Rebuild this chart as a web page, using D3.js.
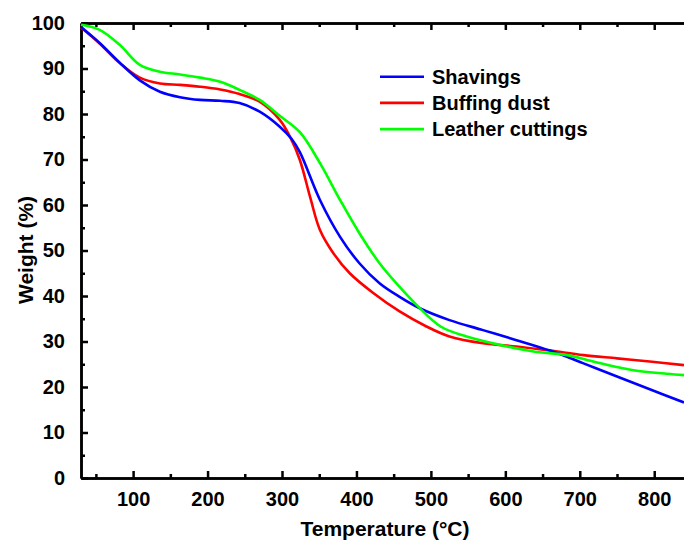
<!DOCTYPE html>
<html>
<head>
<meta charset="utf-8">
<script src="https://cdn.jsdelivr.net/npm/d3@7"></script>
<style>
  body { margin: 0; background: #fff; }
  text { font-family: "Liberation Sans", Arial, sans-serif; font-weight: bold; }
</style>
</head>
<body>
<div id="my_dataviz"></div>
<script>
// data (temperature in °C, weight in %)
var shavingsT = [30, 55, 82, 109, 136, 163, 190, 217, 243, 270, 297, 313, 324, 351, 378, 404, 431, 458, 485, 525, 570, 615, 660, 705, 750, 794, 840];
var shavingsW = [99.1, 95.6, 91.3, 87.4, 84.9, 83.7, 83.1, 82.9, 82.4, 80.5, 77.2, 74.5, 71.6, 61.1, 53.0, 47.2, 42.8, 39.8, 37.3, 34.7, 32.5, 30.3, 28.0, 25.2, 22.3, 19.5, 16.6];

var buffingT = [30, 55, 82, 109, 136, 163, 190, 217, 243, 270, 297, 311, 324, 338, 351, 369, 391, 423, 458, 494, 525, 570, 615, 660, 705, 750, 794, 840];
var buffingW = [99.0, 95.5, 91.2, 88.0, 86.7, 86.4, 86.0, 85.4, 84.4, 82.7, 78.7, 74.9, 69.9, 61.6, 54.5, 49.4, 45.0, 40.6, 36.6, 33.3, 31.1, 29.6, 28.9, 28.0, 27.0, 26.3, 25.6, 24.8];

var leatherT = [30, 55, 82, 109, 136, 163, 190, 217, 243, 270, 297, 324, 351, 378, 404, 431, 458, 481, 513, 548, 594, 638, 683, 728, 772, 817, 840];
var leatherW = [99.6, 98.5, 95.2, 90.8, 89.3, 88.7, 88.0, 87.1, 85.3, 83.1, 79.6, 76.0, 69.2, 61.1, 53.8, 47.2, 42.0, 38.0, 33.3, 31.1, 29.2, 27.8, 27.0, 25.2, 23.7, 22.9, 22.6];

var seriesNames = ["Shavings", "Buffing dust", "Leather cuttings"];
var seriesColors = ["#0000ff", "#ff0000", "#00ff00"];

var xTicks = [100, 200, 300, 400, 500, 600, 700, 800];
var yTicks = [0, 10, 20, 30, 40, 50, 60, 70, 80, 90, 100];

// set the dimensions and margins of the graph
var margin = {top: 23, right: 0, bottom: 65, left: 81},
    width = 684 - margin.left - margin.right,
    height = 543 - margin.top - margin.bottom;

var svg = d3.select("#my_dataviz")
  .append("svg")
    .attr("width", 684)
    .attr("height", 543)
  .append("g")
    .attr("transform", "translate(" + margin.left + "," + margin.top + ")");

var x = d3.scaleLinear().domain([30, 840]).range([0, width]);
var y = d3.scaleLinear().domain([0, 100]).range([height, 0]);

// bottom axis, ticks pointing in
var xAxis = svg.append("g")
  .attr("transform", "translate(0," + height + ")")
  .call(d3.axisBottom(x).tickValues(xTicks).tickSize(-7).tickPadding(14).tickSizeOuter(0));
xAxis.selectAll("text").style("font-size", "20px");

svg.append("g")
  .attr("transform", "translate(0," + height + ")")
  .call(d3.axisBottom(x).tickValues(d3.range(50, 841, 100)).tickSize(-4).tickFormat("").tickSizeOuter(0));

// top axis
svg.append("g")
  .call(d3.axisTop(x).tickValues(xTicks).tickSize(-7).tickFormat("").tickSizeOuter(0));
svg.append("g")
  .call(d3.axisTop(x).tickValues(d3.range(50, 841, 100)).tickSize(-4).tickFormat("").tickSizeOuter(0));

// left axis
var yAxis = svg.append("g")
  .call(d3.axisLeft(y).tickValues(yTicks).tickSize(-7).tickPadding(16).tickSizeOuter(0));
yAxis.selectAll("text").style("font-size", "20px");

svg.append("g")
  .call(d3.axisLeft(y).tickValues(d3.range(5, 100, 10)).tickSize(-4).tickFormat("").tickSizeOuter(0));

svg.selectAll(".domain").attr("stroke", "#000").attr("stroke-width", 2.5);
svg.selectAll(".tick line").attr("stroke", "#000").attr("stroke-width", 2.5);
svg.selectAll(".tick text").attr("fill", "#000").style("font-weight", "bold");

// curves
var line = d3.line()
  .x(function(d) { return x(d[0]); })
  .y(function(d) { return y(d[1]); })
  .curve(d3.curveCatmullRom.alpha(0.5));

var curves = [
  d3.zip(shavingsT, shavingsW),
  d3.zip(buffingT, buffingW),
  d3.zip(leatherT, leatherW)
];

// draw order: red, blue, green on top like the original
[1, 0, 2].forEach(function(i) {
  svg.append("path")
    .datum(curves[i])
    .attr("fill", "none")
    .attr("stroke", seriesColors[i])
    .attr("stroke-width", 2.6)
    .attr("d", line);
});

// legend
seriesNames.forEach(function(name, i) {
  var ly = 53.7 + i * 26.2;
  svg.append("line")
    .attr("x1", 299).attr("x2", 343)
    .attr("y1", ly).attr("y2", ly)
    .attr("stroke", seriesColors[i])
    .attr("stroke-width", 2.6);
  svg.append("text")
    .attr("x", 351)
    .attr("y", ly + 7.2)
    .style("font-size", "20px")
    .text(name);
});

// axis titles
svg.append("text")
  .attr("text-anchor", "middle")
  .attr("x", 385 - margin.left)
  .attr("y", 536 - margin.top)
  .style("font-size", "21px")
  .text("Temperature (°C)");

svg.append("text")
  .attr("text-anchor", "middle")
  .attr("transform", "translate(" + (33 - margin.left) + "," + (250 - margin.top) + ") rotate(-90)")
  .style("font-size", "21px")
  .text("Weight (%)");
</script>
</body>
</html>
